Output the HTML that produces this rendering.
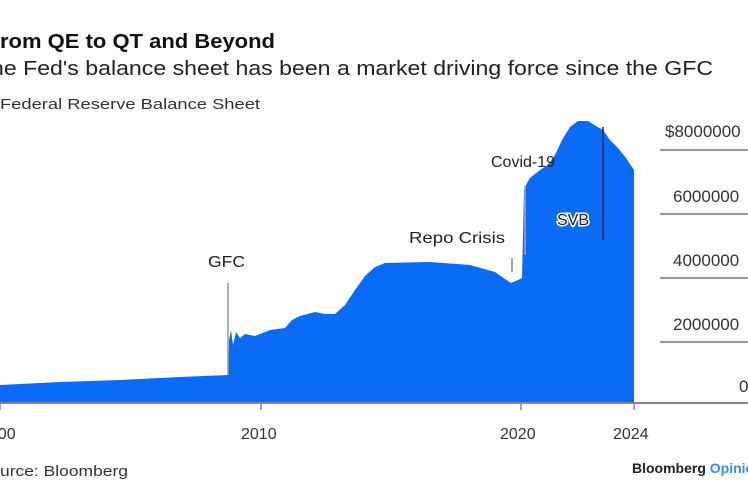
<!DOCTYPE html>
<html><head><style>
body{margin:0;width:748px;height:498px;overflow:hidden;background:#fff;font-family:"Liberation Sans",sans-serif}
</style></head><body>
<svg width="748" height="498" xmlns="http://www.w3.org/2000/svg" style="position:absolute;left:0;top:0">
<text x="0" y="48" font-size="20" font-weight="bold" fill="#111" textLength="275" lengthAdjust="spacingAndGlyphs">rom QE to QT and Beyond</text>
<text x="-9" y="75" font-size="20" fill="#222" textLength="722" lengthAdjust="spacingAndGlyphs">he Fed's balance sheet has been a market driving force since the GFC</text>
<text x="0" y="109" font-size="15" fill="#333" textLength="260" lengthAdjust="spacingAndGlyphs">Federal Reserve Balance Sheet</text>
<g stroke="#999" stroke-width="2">
<line x1="660" y1="150" x2="748" y2="150"/>
<line x1="660" y1="214" x2="748" y2="214"/>
<line x1="660" y1="278" x2="748" y2="278"/>
<line x1="660" y1="342" x2="748" y2="342"/>
</g>
<g font-size="17" fill="#333">
<text x="665" y="137">$8000000</text>
<text x="673" y="202">6000000</text>
<text x="673" y="266">4000000</text>
<text x="673" y="330">2000000</text>
<text x="739" y="392">0</text>
</g>
<path d="M0,385 L60,382 L120,380 L180,377 L228,375 L229,340 L231,330 L233,345 L236,332 L240,338 L245,334 L255,336 L270,330 L285,328 L292,320 L300,316 L315,312 L325,314 L335,314 L345,305 L355,290 L365,276 L375,267 L385,263 L430,262 L470,265 L495,272 L505,279 L511,283 L518,280 L522,278 L524,190 L527,183 L530,178 L540,170 L548,165 L555,155 L562,140 L570,127 L578,121 L588,121 L596,126 L603,130 L610,140 L618,148 L626,158 L634,170 L634,403 L0,403 Z" fill="#0a6cf5"/>
<line x1="0" y1="403" x2="748" y2="403" stroke="#888" stroke-width="2"/>
<g stroke="#888" stroke-width="1.5">
<line x1="261" y1="403" x2="261" y2="410"/>
<line x1="521" y1="403" x2="521" y2="410"/>
<line x1="634" y1="403" x2="634" y2="410"/>
<line x1="0" y1="403" x2="0" y2="410"/>
</g>
<line x1="228" y1="283" x2="228" y2="375" stroke="#999" stroke-width="1.5"/>
<line x1="525" y1="185" x2="525" y2="255" stroke="#aaa" stroke-width="1.5"/>
<line x1="512" y1="258" x2="512" y2="272" stroke="#888" stroke-width="1.5"/>
<line x1="603" y1="127" x2="603" y2="240" stroke="#1a2a5a" stroke-width="1.5"/>
<g font-size="16" fill="#222">
<text x="208" y="267" textLength="37" lengthAdjust="spacingAndGlyphs">GFC</text>
<text x="409" y="243" textLength="96" lengthAdjust="spacingAndGlyphs">Repo Crisis</text>
<text x="491" y="167" textLength="64" lengthAdjust="spacingAndGlyphs">Covid-19</text>
<text x="557" y="225" fill="#fff" stroke="#fff" stroke-width="3">SVB</text>
<text x="557" y="225">SVB</text>
</g>
<g font-size="16" fill="#333">
<text x="-20" y="439">2000</text>
<text x="241" y="439">2010</text>
<text x="500" y="439">2020</text>
<text x="613" y="439">2024</text>
</g>
<text x="0" y="476" font-size="15" fill="#333" textLength="128" lengthAdjust="spacingAndGlyphs">urce: Bloomberg</text>
<text x="632" y="473" font-size="14" font-weight="bold" fill="#222">Bloomberg <tspan fill="#3a8ee6">Opinion</tspan></text>
</svg>
</body></html>
